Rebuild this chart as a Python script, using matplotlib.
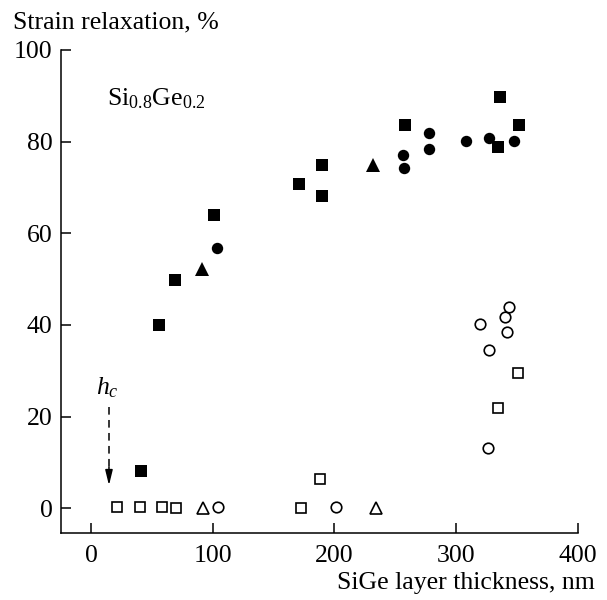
import matplotlib
matplotlib.use("Agg")
import matplotlib.pyplot as plt

plt.rcParams['font.family'] = ['Liberation Serif', 'DejaVu Serif']
plt.rcParams['mathtext.fontset'] = 'custom'
plt.rcParams['mathtext.rm'] = 'Liberation Serif'
plt.rcParams['mathtext.it'] = 'Liberation Serif:italic'
plt.rcParams['mathtext.bf'] = 'Liberation Serif:bold'

# ---- data (thickness nm, relaxation %) ----
filled_sq_x = [41.1, 55.9, 69.0, 101.0, 171.0, 189.5, 189.5, 257.9, 334.6, 335.9, 351.8]
filled_sq_y = [8.2, 40.0, 49.9, 64.1, 70.8, 75.0, 68.2, 83.7, 78.8, 89.8, 83.7]

filled_ci_x = [103.2, 256.3, 256.8, 277.6, 277.9, 308.3, 327.2, 347.4]
filled_ci_y = [56.8, 77.1, 74.3, 81.9, 78.5, 80.2, 80.7, 80.2]

filled_tr_x = [91.2, 231.4]
filled_tr_y = [52.2, 74.8]

open_sq_x = [21.6, 40.2, 58.0, 69.8, 172.2, 188.3, 334.6, 351.0]
open_sq_y = [0.3, 0.3, 0.3, 0.0, 0.0, 6.4, 21.9, 29.6]

open_ci_x = [104.6, 201.2, 326.0, 326.9, 319.5, 341.7, 339.8, 343.0]
open_ci_y = [0.3, 0.3, 13.1, 34.6, 40.2, 38.5, 41.7, 44.0]

open_tr_x = [92.3, 233.8]
open_tr_y = [0.0, 0.0]

x_ticks = [0, 100, 200, 300, 400]
y_ticks = [0, 20, 40, 60, 80, 100]

hc_x = 14.8
hc_y_top = 22.2
hc_y_tip = 5.0

FS = 18.5

fig = plt.figure(figsize=(6.07, 6.0), dpi=100)
ax = fig.add_axes([61/607, 1-533/600, (578-61)/607, (533-50)/600])

ms = 8.2
ax.plot(filled_sq_x, filled_sq_y, 's', color='black', ms=8.6, mew=0, ls='none')
ax.plot(filled_ci_x, filled_ci_y, 'o', color='black', ms=8.2, mew=0, ls='none')
ax.plot(filled_tr_x, filled_tr_y, '^', color='black', ms=9.5, mew=0, ls='none')
ax.plot(open_sq_x, open_sq_y, 's', mfc='white', mec='black', ms=7.4, mew=1.2, ls='none')
ax.plot(open_ci_x, open_ci_y, 'o', mfc='white', mec='black', ms=7.6, mew=1.2, ls='none')
ax.plot(open_tr_x, open_tr_y, '^', mfc='white', mec='black', ms=8.8, mew=1.2, ls='none')

# h_c arrow
ax.plot([hc_x, hc_x], [hc_y_top, hc_y_tip + 3.5], color='black', lw=1.1, ls=(0, (5, 3.5)))
ax.annotate('', xy=(hc_x, hc_y_tip), xytext=(hc_x, hc_y_tip + 4.0),
            arrowprops=dict(arrowstyle='-|>,head_length=0.9,head_width=0.22',
                            color='black', lw=1.1, shrinkA=0, shrinkB=0))
ax.text(hc_x - 1.5, hc_y_top + 1.5, r'$h_c$', fontsize=FS, ha='center', va='bottom')

ax.text(13.1, 87.9, r'Si$_{0.8}$Ge$_{0.2}$', fontsize=FS, ha='left', va='baseline')

ax.set_xlim(-24.6, 400)
ax.set_ylim(-5.4, 100)
ax.set_xticks(x_ticks)
ax.set_yticks(y_ticks)
ax.spines['top'].set_visible(False)
ax.spines['right'].set_visible(False)
for s in ['left', 'bottom']:
    ax.spines[s].set_linewidth(1.1)
ax.tick_params(direction='in', length=7.5, width=1.1, labelsize=FS)
ax.tick_params(axis='x', pad=9)
ax.tick_params(axis='y', pad=6)

fig.text(13/607, 1-28/600, 'Strain relaxation, %', fontsize=FS, ha='left', va='baseline')
fig.text(595/607, 1-589/600, 'SiGe layer thickness, nm', fontsize=FS, ha='right', va='baseline')

fig.savefig('out.png', dpi=100)
